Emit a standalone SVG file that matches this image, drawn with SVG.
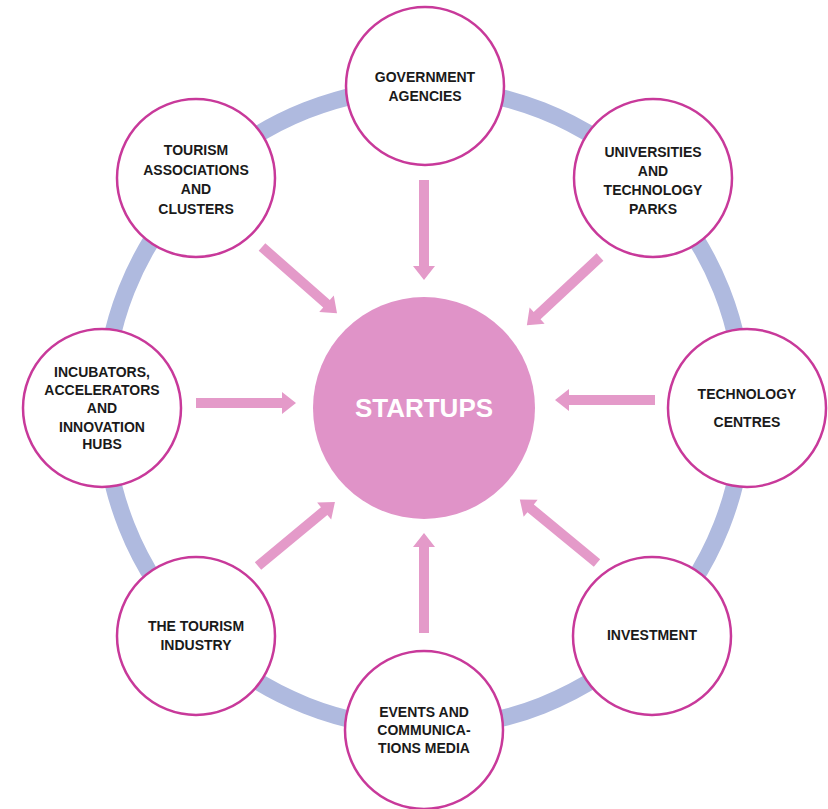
<svg xmlns="http://www.w3.org/2000/svg" xmlns:xlink="http://www.w3.org/1999/xlink" width="828" height="809" viewBox="0 0 828 809">
<defs>
<style>
.node{fill:#ffffff;stroke:#c8399a;stroke-width:2.5}
.lbl{font-family:"Liberation Sans",Arial,sans-serif;font-weight:bold;font-size:14px;fill:#1a1a1a;text-anchor:middle}
.arr{fill:#e49ac9}
.ring{fill:none;stroke:#afbadf;stroke-width:17}
</style>
<polygon id="arrow" points="0,-5 86,-5 86,-11 100,0 86,11 86,5 0,5"/>
</defs>
<rect width="828" height="809" fill="#ffffff"/>
<circle class="ring" cx="424" cy="408" r="320"/>
<g id="connectors" class="arr">
<use xlink:href="#arrow" transform="translate(424,180) rotate(90)"/>
<use xlink:href="#arrow" transform="translate(424,633) rotate(-90)"/>
<use xlink:href="#arrow" transform="translate(196,403)"/>
<use xlink:href="#arrow" transform="translate(655,400) rotate(180)"/>
<use xlink:href="#arrow" transform="translate(262,247) rotate(41.4)"/>
<use xlink:href="#arrow" transform="translate(600,257) rotate(137)"/>
<use xlink:href="#arrow" transform="translate(258,566) rotate(-39.7)"/>
<use xlink:href="#arrow" transform="translate(597,563) rotate(-140.5)"/>
</g>
<g id="startups">
<circle cx="424" cy="408" r="111" fill="#e093c8"/>
<text x="424" y="417" font-family="Liberation Sans,Arial,sans-serif" font-weight="bold" font-size="26" fill="#ffffff" text-anchor="middle">STARTUPS</text>
</g>
<g id="government">
<circle class="node" cx="425" cy="86" r="79"/>
<text class="lbl" x="425" y="82">GOVERNMENT</text>
<text class="lbl" x="425" y="101">AGENCIES</text>
</g>
<g id="universities">
<circle class="node" cx="653" cy="178" r="79"/>
<text class="lbl" x="653" y="157">UNIVERSITIES</text>
<text class="lbl" x="653" y="176">AND</text>
<text class="lbl" x="653" y="195">TECHNOLOGY</text>
<text class="lbl" x="653" y="214">PARKS</text>
</g>
<g id="technology-centres">
<circle class="node" cx="747" cy="408" r="79"/>
<text class="lbl" x="747" y="399">TECHNOLOGY</text>
<text class="lbl" x="747" y="427">CENTRES</text>
</g>
<g id="investment">
<circle class="node" cx="652" cy="636" r="79"/>
<text class="lbl" x="652" y="640">INVESTMENT</text>
</g>
<g id="events">
<circle class="node" cx="424" cy="730" r="79"/>
<text class="lbl" x="424" y="717">EVENTS AND</text>
<text class="lbl" x="424" y="735">COMMUNICA-</text>
<text class="lbl" x="424" y="753">TIONS MEDIA</text>
</g>
<g id="tourism-industry">
<circle class="node" cx="196" cy="636" r="79"/>
<text class="lbl" x="196" y="631">THE TOURISM</text>
<text class="lbl" x="196" y="650">INDUSTRY</text>
</g>
<g id="incubators">
<circle class="node" cx="102" cy="408" r="79"/>
<text class="lbl" x="102" y="377">INCUBATORS,</text>
<text class="lbl" x="102" y="395">ACCELERATORS</text>
<text class="lbl" x="102" y="413">AND</text>
<text class="lbl" x="102" y="432">INNOVATION</text>
<text class="lbl" x="102" y="449">HUBS</text>
</g>
<g id="tourism-associations">
<circle class="node" cx="196" cy="178" r="79"/>
<text class="lbl" x="196" y="155">TOURISM</text>
<text class="lbl" x="196" y="175">ASSOCIATIONS</text>
<text class="lbl" x="196" y="194">AND</text>
<text class="lbl" x="196" y="214">CLUSTERS</text>
</g>
</svg>
